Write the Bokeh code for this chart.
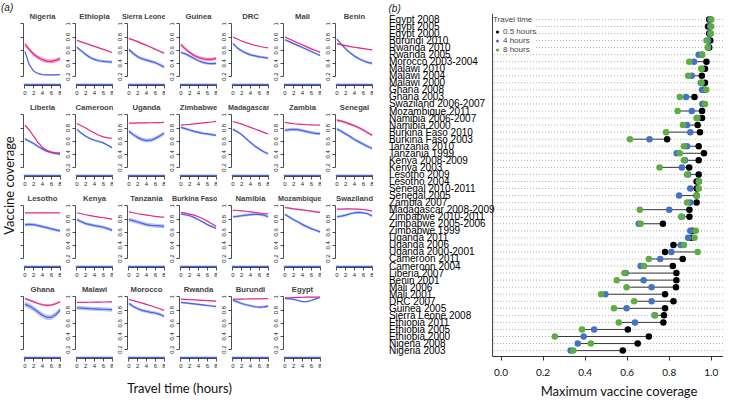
from math import pi
from bokeh.plotting import figure
from bokeh.layouts import row, column
from bokeh.models import (Range1d, FactorRange, FixedTicker, Label, Legend, LegendItem,
                          Span, ColumnDataSource, Spacer, PrintfTickFormatter)
from bokeh.core.properties import value
from bokeh.embed import file_html
from bokeh.resources import INLINE

# ---------------- panel (a) data: fitted coverage vs travel time ----------------
travel_hours = [0, 1, 2, 3, 4, 5, 6, 7, 8]
hour_ticks = [0, 2, 4, 6, 8]
coverage_ticks = [0.2, 0.4, 0.6, 0.8, 1.0]
rug_hours = [-0.3, 8.2]

nigeria_pink = [0.69, 0.61, 0.54, 0.49, 0.455, 0.435, 0.43, 0.445, 0.47]
nigeria_blue = [0.58, 0.38, 0.28, 0.245, 0.23, 0.225, 0.225, 0.225, 0.23]
ethiopia_pink = [0.75, 0.727, 0.704, 0.681, 0.658, 0.635, 0.612, 0.589, 0.565]
ethiopia_blue = [0.645, 0.59, 0.535, 0.49, 0.46, 0.44, 0.43, 0.425, 0.42]
sierra_leone_pink = [0.78, 0.755, 0.73, 0.70, 0.675, 0.645, 0.615, 0.585, 0.555]
sierra_leone_blue = [0.61, 0.55, 0.50, 0.47, 0.45, 0.43, 0.41, 0.38, 0.345]
guinea_pink = [0.685, 0.62, 0.565, 0.52, 0.49, 0.47, 0.46, 0.46, 0.475]
guinea_blue = [0.565, 0.545, 0.51, 0.475, 0.44, 0.415, 0.40, 0.395, 0.40]
drc_pink = [0.80, 0.77, 0.74, 0.715, 0.695, 0.675, 0.66, 0.645, 0.635]
drc_blue = [0.70, 0.635, 0.59, 0.555, 0.53, 0.515, 0.50, 0.49, 0.48]
mali_pink = [0.80, 0.77, 0.74, 0.71, 0.68, 0.65, 0.62, 0.595, 0.57]
mali_blue = [0.76, 0.73, 0.70, 0.67, 0.64, 0.61, 0.58, 0.55, 0.52]
benin_pink = [0.70, 0.685, 0.67, 0.655, 0.645, 0.635, 0.625, 0.615, 0.605]
benin_blue = [0.77, 0.69, 0.62, 0.56, 0.51, 0.47, 0.44, 0.415, 0.40]
liberia_pink = [0.845, 0.77, 0.675, 0.58, 0.505, 0.457, 0.43, 0.42, 0.42]
liberia_blue = [0.635, 0.60, 0.565, 0.52, 0.48, 0.45, 0.43, 0.415, 0.405]
cameroon_pink = [0.87, 0.835, 0.80, 0.76, 0.725, 0.69, 0.665, 0.65, 0.645]
cameroon_blue = [0.78, 0.72, 0.675, 0.64, 0.615, 0.595, 0.575, 0.54, 0.50]
uganda_pink = [0.875, 0.876, 0.877, 0.878, 0.879, 0.88, 0.882, 0.883, 0.885]
uganda_blue = [0.75, 0.70, 0.655, 0.625, 0.61, 0.615, 0.64, 0.68, 0.72]
zimbabwe_pink = [0.845, 0.85, 0.855, 0.862, 0.87, 0.877, 0.885, 0.892, 0.90]
zimbabwe_blue = [0.81, 0.79, 0.77, 0.75, 0.735, 0.72, 0.71, 0.70, 0.69]
madagascar_pink = [0.90, 0.88, 0.86, 0.835, 0.81, 0.785, 0.76, 0.735, 0.71]
madagascar_blue = [0.78, 0.745, 0.70, 0.64, 0.58, 0.525, 0.48, 0.44, 0.41]
zambia_pink = [0.885, 0.875, 0.865, 0.86, 0.855, 0.85, 0.848, 0.846, 0.845]
zambia_blue = [0.765, 0.775, 0.78, 0.775, 0.76, 0.745, 0.73, 0.72, 0.715]
senegal_pink = [0.92, 0.905, 0.885, 0.86, 0.835, 0.805, 0.77, 0.73, 0.69]
senegal_blue = [0.785, 0.75, 0.71, 0.67, 0.625, 0.59, 0.555, 0.52, 0.49]
lesotho_pink = [0.895, 0.895, 0.895, 0.895, 0.895, 0.895, 0.895, 0.895, 0.895]
lesotho_blue = [0.715, 0.72, 0.715, 0.70, 0.685, 0.67, 0.65, 0.635, 0.62]
kenya_pink = [0.895, 0.88, 0.865, 0.853, 0.84, 0.83, 0.82, 0.81, 0.80]
kenya_blue = [0.79, 0.76, 0.73, 0.715, 0.70, 0.69, 0.675, 0.655, 0.63]
tanzania_pink = [0.91, 0.895, 0.88, 0.87, 0.86, 0.85, 0.84, 0.833, 0.828]
tanzania_blue = [0.79, 0.775, 0.755, 0.735, 0.715, 0.705, 0.70, 0.695, 0.69]
burkina_faso_pink = [0.90, 0.89, 0.875, 0.86, 0.835, 0.805, 0.77, 0.73, 0.69]
burkina_faso_blue = [0.875, 0.865, 0.85, 0.825, 0.79, 0.755, 0.715, 0.685, 0.66]
namibia_pink = [0.935, 0.93, 0.925, 0.918, 0.91, 0.90, 0.892, 0.884, 0.876]
namibia_blue = [0.835, 0.84, 0.85, 0.86, 0.868, 0.872, 0.87, 0.86, 0.835]
mozambique_pink = [0.975, 0.965, 0.955, 0.947, 0.938, 0.93, 0.92, 0.91, 0.90]
mozambique_blue = [0.87, 0.83, 0.79, 0.755, 0.715, 0.685, 0.655, 0.63, 0.605]
swaziland_pink = [0.95, 0.952, 0.953, 0.953, 0.952, 0.95, 0.945, 0.935, 0.92]
swaziland_blue = [0.835, 0.845, 0.86, 0.88, 0.895, 0.90, 0.895, 0.88, 0.845]
ghana_pink = [0.975, 0.95, 0.925, 0.90, 0.88, 0.87, 0.875, 0.895, 0.925]
ghana_blue = [0.89, 0.86, 0.82, 0.77, 0.72, 0.69, 0.69, 0.73, 0.80]
malawi_pink = [0.915, 0.916, 0.917, 0.918, 0.92, 0.921, 0.922, 0.923, 0.925]
malawi_blue = [0.835, 0.83, 0.825, 0.82, 0.818, 0.815, 0.812, 0.808, 0.805]
morocco_pink = [0.96, 0.943, 0.925, 0.905, 0.886, 0.865, 0.843, 0.82, 0.795]
morocco_blue = [0.90, 0.855, 0.82, 0.795, 0.78, 0.765, 0.755, 0.735, 0.705]
rwanda_pink = [0.965, 0.962, 0.958, 0.955, 0.951, 0.947, 0.943, 0.939, 0.935]
rwanda_blue = [0.915, 0.908, 0.90, 0.893, 0.885, 0.877, 0.869, 0.861, 0.853]
burundi_pink = [0.965, 0.966, 0.967, 0.968, 0.969, 0.97, 0.971, 0.972, 0.973]
burundi_blue = [0.95, 0.925, 0.90, 0.88, 0.865, 0.85, 0.843, 0.848, 0.86]
egypt_pink = [0.985, 0.987, 0.99, 0.992, 0.994, 0.995, 0.996, 0.997, 0.998]
egypt_blue = [0.975, 0.97, 0.962, 0.945, 0.928, 0.928, 0.945, 0.97, 0.99]

panel_names = [
    ["Nigeria", "Ethiopia", "Sierra Leone", "Guinea", "DRC", "Mali", "Benin"],
    ["Liberia", "Cameroon", "Uganda", "Zimbabwe", "Madagascar", "Zambia", "Senegal"],
    ["Lesotho", "Kenya", "Tanzania", "Burkina Faso", "Namibia", "Mozambique", "Swaziland"],
    ["Ghana", "Malawi", "Morocco", "Rwanda", "Burundi", "Egypt"],
]
pink_curves = {
    "Nigeria": nigeria_pink, "Ethiopia": ethiopia_pink, "Sierra Leone": sierra_leone_pink,
    "Guinea": guinea_pink, "DRC": drc_pink, "Mali": mali_pink, "Benin": benin_pink,
    "Liberia": liberia_pink, "Cameroon": cameroon_pink, "Uganda": uganda_pink,
    "Zimbabwe": zimbabwe_pink, "Madagascar": madagascar_pink, "Zambia": zambia_pink,
    "Senegal": senegal_pink, "Lesotho": lesotho_pink, "Kenya": kenya_pink,
    "Tanzania": tanzania_pink, "Burkina Faso": burkina_faso_pink, "Namibia": namibia_pink,
    "Mozambique": mozambique_pink, "Swaziland": swaziland_pink, "Ghana": ghana_pink,
    "Malawi": malawi_pink, "Morocco": morocco_pink, "Rwanda": rwanda_pink,
    "Burundi": burundi_pink, "Egypt": egypt_pink,
}
blue_curves = {
    "Nigeria": nigeria_blue, "Ethiopia": ethiopia_blue, "Sierra Leone": sierra_leone_blue,
    "Guinea": guinea_blue, "DRC": drc_blue, "Mali": mali_blue, "Benin": benin_blue,
    "Liberia": liberia_blue, "Cameroon": cameroon_blue, "Uganda": uganda_blue,
    "Zimbabwe": zimbabwe_blue, "Madagascar": madagascar_blue, "Zambia": zambia_blue,
    "Senegal": senegal_blue, "Lesotho": lesotho_blue, "Kenya": kenya_blue,
    "Tanzania": tanzania_blue, "Burkina Faso": burkina_faso_blue, "Namibia": namibia_blue,
    "Mozambique": mozambique_blue, "Swaziland": swaziland_blue, "Ghana": ghana_blue,
    "Malawi": malawi_blue, "Morocco": morocco_blue, "Rwanda": rwanda_blue,
    "Burundi": burundi_blue, "Egypt": egypt_blue,
}
# half-widths of the confidence bands (pink, blue)
pink_band = {
    "Nigeria": 0.03, "Ethiopia": 0.0, "Sierra Leone": 0.012, "Guinea": 0.025, "DRC": 0.003,
    "Mali": 0.008, "Benin": 0.008, "Liberia": 0.012, "Cameroon": 0.003, "Uganda": 0.003,
    "Zimbabwe": 0.004, "Madagascar": 0.004, "Zambia": 0.003, "Senegal": 0.018,
    "Lesotho": 0.002, "Kenya": 0.004, "Tanzania": 0.004, "Burkina Faso": 0.006,
    "Namibia": 0.004, "Mozambique": 0.01, "Swaziland": 0.004, "Ghana": 0.015,
    "Malawi": 0.003, "Morocco": 0.004, "Rwanda": 0.004, "Burundi": 0.003, "Egypt": 0.005,
}
blue_band = {
    "Nigeria": 0.008, "Ethiopia": 0.022, "Sierra Leone": 0.025, "Guinea": 0.02, "DRC": 0.02,
    "Mali": 0.015, "Benin": 0.02, "Liberia": 0.02, "Cameroon": 0.015, "Uganda": 0.03,
    "Zimbabwe": 0.02, "Madagascar": 0.02, "Zambia": 0.025, "Senegal": 0.025,
    "Lesotho": 0.025, "Kenya": 0.025, "Tanzania": 0.03, "Burkina Faso": 0.015,
    "Namibia": 0.02, "Mozambique": 0.02, "Swaziland": 0.02, "Ghana": 0.04,
    "Malawi": 0.03, "Morocco": 0.025, "Rwanda": 0.015, "Burundi": 0.02, "Egypt": 0.01,
}

# ---------------- panel (b) data: maximum vaccine coverage per survey ----------------
survey_labels = [
    "Egypt 2008", "Egypt 2005", "Egypt 2000", "Burundi 2010", "Rwanda 2010", "Rwanda 2005",
    "Morocco 2003-2004", "Malawi 2010", "Malawi 2004", "Malawi 2000", "Ghana 2008",
    "Ghana 2003", "Swaziland 2006-2007", "Mozambique 2011", "Namibia 2006-2007",
    "Namibia 2000", "Burkina Faso 2010", "Burkina Faso 2003", "Tanzania 2010",
    "Tanzania 1999", "Kenya 2008-2009", "Kenya 2003", "Lesotho 2009", "Lesotho 2004",
    "Senegal 2010-2011", "Senegal 2005", "Zambia 2007", "Madagascar 2008-2009",
    "Zimbabwe 2010-2011", "Zimbabwe 2005-2006", "Zimbabwe 1999", "Uganda 2011",
    "Uganda 2006", "Uganda 2000-2001", "Cameroon 2011", "Cameroon 2004", "Liberia 2007",
    "Benin 2001", "Mali 2006", "Mali 2001", "DRC 2007", "Guinea 2005", "Sierra Leone 2008",
    "Ethiopia 2011", "Ethiopia 2005", "Ethiopia 2000", "Nigeria 2008", "Nigeria 2003",
]
cov_05h = [0.99, 0.985, 0.99, 0.995, 0.99, 0.955, 0.977, 0.97, 0.955, 0.97, 0.965, 0.92,
           0.96, 0.956, 0.956, 0.935, 0.946, 0.79, 0.94, 0.965, 0.94, 0.895, 0.94, 0.93,
           0.93, 0.93, 0.93, 0.896, 0.896, 0.77, 0.91, 0.905, 0.82, 0.78, 0.864, 0.817,
           0.834, 0.834, 0.832, 0.78, 0.82, 0.78, 0.775, 0.772, 0.603, 0.703, 0.65, 0.579]
cov_4h = [0.996, 0.995, 0.995, 0.985, 0.985, 0.94, 0.918, 0.955, 0.907, 0.95, 0.956, 0.88,
          0.958, 0.907, 0.935, 0.885, 0.90, 0.706, 0.885, 0.835, 0.875, 0.86, 0.89, 0.94,
          0.90, 0.847, 0.90, 0.80, 0.86, 0.655, 0.90, 0.89, 0.855, 0.81, 0.757, 0.664,
          0.593, 0.678, 0.716, 0.496, 0.716, 0.597, 0.73, 0.637, 0.443, 0.393, 0.365, 0.331]
cov_8h = [1.0, 1.0, 0.998, 0.977, 0.983, 0.957, 0.895, 0.952, 0.89, 0.954, 0.976, 0.85,
          0.97, 0.84, 0.93, 0.865, 0.785, 0.613, 0.87, 0.85, 0.87, 0.754, 0.885, 0.942,
          0.94, 0.93, 0.885, 0.66, 0.857, 0.664, 0.926, 0.92, 0.87, 0.935, 0.703, 0.68,
          0.587, 0.55, 0.597, 0.476, 0.633, 0.537, 0.733, 0.56, 0.385, 0.256, 0.427, 0.344]
max_cov_ticks = [0.0, 0.2, 0.4, 0.6, 0.8, 1.0]

# ---------------- styles ----------------
PINK = "#E22C8A"
BLUE = "#4763EC"
DOT_BLUE = "#4472C4"
DOT_GREEN = "#5EAD41"
AXIS = "#222222"
SANS = "Liberation Sans"
BIG = "Lato"
LONG_TITLES = ("Sierra Leone", "Madagascar", "Burkina Faso", "Mozambique")


def style_axis(ax, font_size, standoff):
    ax.major_tick_in = 0
    ax.major_tick_out = 3
    ax.minor_tick_line_color = None
    ax.major_label_standoff = standoff
    ax.major_label_text_font_size = font_size
    ax.major_label_text_font = SANS
    ax.major_label_text_color = AXIS
    ax.axis_line_color = AXIS
    ax.axis_line_width = 0.8
    ax.major_tick_line_color = AXIS
    ax.major_tick_line_width = 0.8


def make_panel(name, c, r):
    left = 5 if c == 0 else 14
    top = 21 if r == 0 else 13
    bottom = 14
    fw, fh = 38, 64
    p = figure(width=left + fw, height=top + fh + bottom,
               x_range=Range1d(-0.32, 8.32), y_range=Range1d(0.064, 1.036),
               output_backend="svg", toolbar_location=None, title=name,
               min_border_left=left, min_border_right=0, min_border_top=top,
               min_border_bottom=bottom, outline_line_color=None,
               background_fill_color="white", border_fill_color="white")
    p.title.text_font = SANS
    p.title.text_font_style = "bold"
    p.title.standoff = 1
    p.title.vertical_align = "bottom"
    if name in LONG_TITLES:
        p.title.align = "right"
        p.title.offset = 0
        p.title.text_font_size = "7.2px"
    else:
        p.title.align = "center"
        p.title.text_font_size = "7.7px"
    p.grid.visible = False

    xa = p.xaxis[0]
    xa.ticker = FixedTicker(ticks=hour_ticks)
    xa.bounds = (0, 8)
    style_axis(xa, "6px", 2)
    ya = p.yaxis[0]
    ya.ticker = FixedTicker(ticks=coverage_ticks)
    ya.bounds = (0.2, 1.0)
    ya.major_label_orientation = "parallel"
    if c == 0:
        style_axis(ya, "1px", 0)
        ya.major_label_text_color = None
    else:
        style_axis(ya, "6px", 2)

    pk = pink_curves[name]
    bl = blue_curves[name]
    pw = pink_band[name]
    bw = blue_band[name]
    src = ColumnDataSource(dict(
        x=travel_hours, pk=pk, bl=bl,
        pk_lo=[v - pw for v in pk], pk_hi=[v + pw for v in pk],
        bl_lo=[v - bw for v in bl], bl_hi=[v + bw for v in bl]))
    p.varea(x="x", y1="bl_lo", y2="bl_hi", source=src, fill_color=BLUE, fill_alpha=0.38)
    p.varea(x="x", y1="pk_lo", y2="pk_hi", source=src, fill_color=PINK, fill_alpha=0.45)
    p.line(x="x", y="bl", source=src, line_color=BLUE, line_width=1.2)
    p.line(x="x", y="pk", source=src, line_color=PINK, line_width=1.2)
    # rug of observed travel times at the bottom
    p.line(x=rug_hours, y=[0.078, 0.078], line_color=BLUE, line_width=1.6)
    return p


rows = []
for r, names in enumerate(panel_names):
    figs = [make_panel(n, c, r) for c, n in enumerate(names)]
    if len(figs) < 7:
        figs.append(Spacer(width=52, height=91))
    rows.append(row(*figs, spacing=0))

# footer with x title
footer = figure(width=355, height=27, x_range=Range1d(0, 355), y_range=Range1d(27, 0),
                output_backend="svg", toolbar_location=None, min_border=0,
                x_axis_location=None, y_axis_location=None, outline_line_color=None)
footer.grid.visible = False
footer.add_layout(Label(x=161, y=15.8, text="Travel time (hours)", text_font=BIG,
                        text_font_size="13px", text_align="center", text_baseline="middle",
                        text_color="#111"))

# left strip with (a) and y title
strip = figure(width=18, height=399, x_range=Range1d(0, 18), y_range=Range1d(399, 0),
               output_backend="svg", toolbar_location=None, min_border=0,
               x_axis_location=None, y_axis_location=None, outline_line_color=None)
strip.grid.visible = False
strip.add_layout(Label(x=0.5, y=6.8, text="(a)", text_font=SANS, text_font_size="10px",
                       text_font_style="italic", text_align="left", text_baseline="middle",
                       text_color="#222"))
strip.add_layout(Label(x=8.0, y=185, text="Vaccine coverage", text_font=BIG,
                       text_font_size="13px", angle=pi / 2, text_align="center",
                       text_baseline="middle", text_color="#111"))

left_block = row(strip, column(*rows, footer, spacing=0), spacing=0)

# ---------------- panel (b) ----------------
XSTART, XEND = -0.535, 1.058
pb = figure(width=350, height=381, x_range=Range1d(XSTART, XEND),
            y_range=FactorRange(factors=list(reversed(survey_labels)), range_padding=0.014),
            output_backend="svg", toolbar_location=None, title="(b)",
            min_border_left=15, min_border_right=0, min_border_top=12, min_border_bottom=25,
            y_axis_location=None, outline_line_color=None,
            background_fill_color="white", border_fill_color="white")
pb.title.align = "left"
pb.title.text_font = SANS
pb.title.text_font_size = "10px"
pb.title.text_font_style = "italic"
pb.title.text_color = "#222"
pb.title.standoff = 0
pb.title.offset = 0
pb.grid.visible = False

bsrc = ColumnDataSource(dict(
    label=survey_labels, k=cov_05h, b=cov_4h, g=cov_8h,
    lo=[min(a, b, c) for a, b, c in zip(cov_05h, cov_4h, cov_8h)],
    hi=[max(a, b, c) for a, b, c in zip(cov_05h, cov_4h, cov_8h)],
    gx0=[-0.033] * len(survey_labels), gx1=[XEND] * len(survey_labels),
    tx=[XSTART + 0.002] * len(survey_labels)))

pb.segment(x0="gx0", x1="gx1", y0="label", y1="label", source=bsrc,
           line_color="#9a9a9a", line_width=0.8, line_dash="1 2")
pb.add_layout(Span(location=-0.04, dimension="height", line_color="#333333", line_width=1))
pb.text(x="tx", y="label", text="label", source=bsrc, text_font=value(SANS),
        text_font_size="10px", text_align="left", text_baseline="middle", text_color="black")
pb.segment(x0="lo", x1="hi", y0="label", y1="label", source=bsrc,
           line_color="#3a3a3a", line_width=1)
rk = pb.scatter(x="k", y="label", source=bsrc, size=6.5, fill_color="black", line_color=None)
rb = pb.scatter(x="b", y="label", source=bsrc, size=6.5, fill_color=DOT_BLUE, line_color=None)
rg = pb.scatter(x="g", y="label", source=bsrc, size=6.5, fill_color=DOT_GREEN, line_color=None)

xa = pb.xaxis[0]
xa.ticker = FixedTicker(ticks=max_cov_ticks)
xa.formatter = PrintfTickFormatter(format="%.1f")
xa.bounds = (-0.04, XEND)
xa.major_tick_in = 0
xa.major_tick_out = 4
xa.minor_tick_line_color = None
xa.axis_line_color = "#333333"
xa.major_tick_line_color = "#333333"
xa.major_label_standoff = 8
xa.major_label_text_font = BIG
xa.major_label_text_font_size = "10px"
xa.major_label_text_color = "#111"

legend = Legend(items=[LegendItem(label="0.5 hours", renderers=[rk]),
                       LegendItem(label="4 hours", renderers=[rb]),
                       LegendItem(label="8 hours", renderers=[rg])],
                title="Travel time", location=(105, 302),
                label_text_font=SANS, label_text_font_size="8px",
                title_text_font=SANS, title_text_font_size="8px",
                title_text_font_style="normal", title_standoff=3,
                glyph_width=8, glyph_height=9, label_height=9, label_standoff=2,
                spacing=0, padding=1, margin=0,
                background_fill_color="white", background_fill_alpha=1,
                border_line_color=None)
pb.add_layout(legend)

# footer of panel (b) with the x title
bfoot = figure(width=350, height=18, x_range=Range1d(0, 350), y_range=Range1d(18, 0),
               output_backend="svg", toolbar_location=None, min_border=0,
               x_axis_location=None, y_axis_location=None, outline_line_color=None)
bfoot.grid.visible = False
bfoot.add_layout(Label(x=241, y=9.5, text="Maximum vaccine coverage", text_font=BIG,
                       text_font_size="13px", text_align="center", text_baseline="middle",
                       text_color="#111"))

layout = row(left_block, column(pb, bfoot, spacing=0), spacing=0)
open("out.html", "w").write(file_html(layout, INLINE))
